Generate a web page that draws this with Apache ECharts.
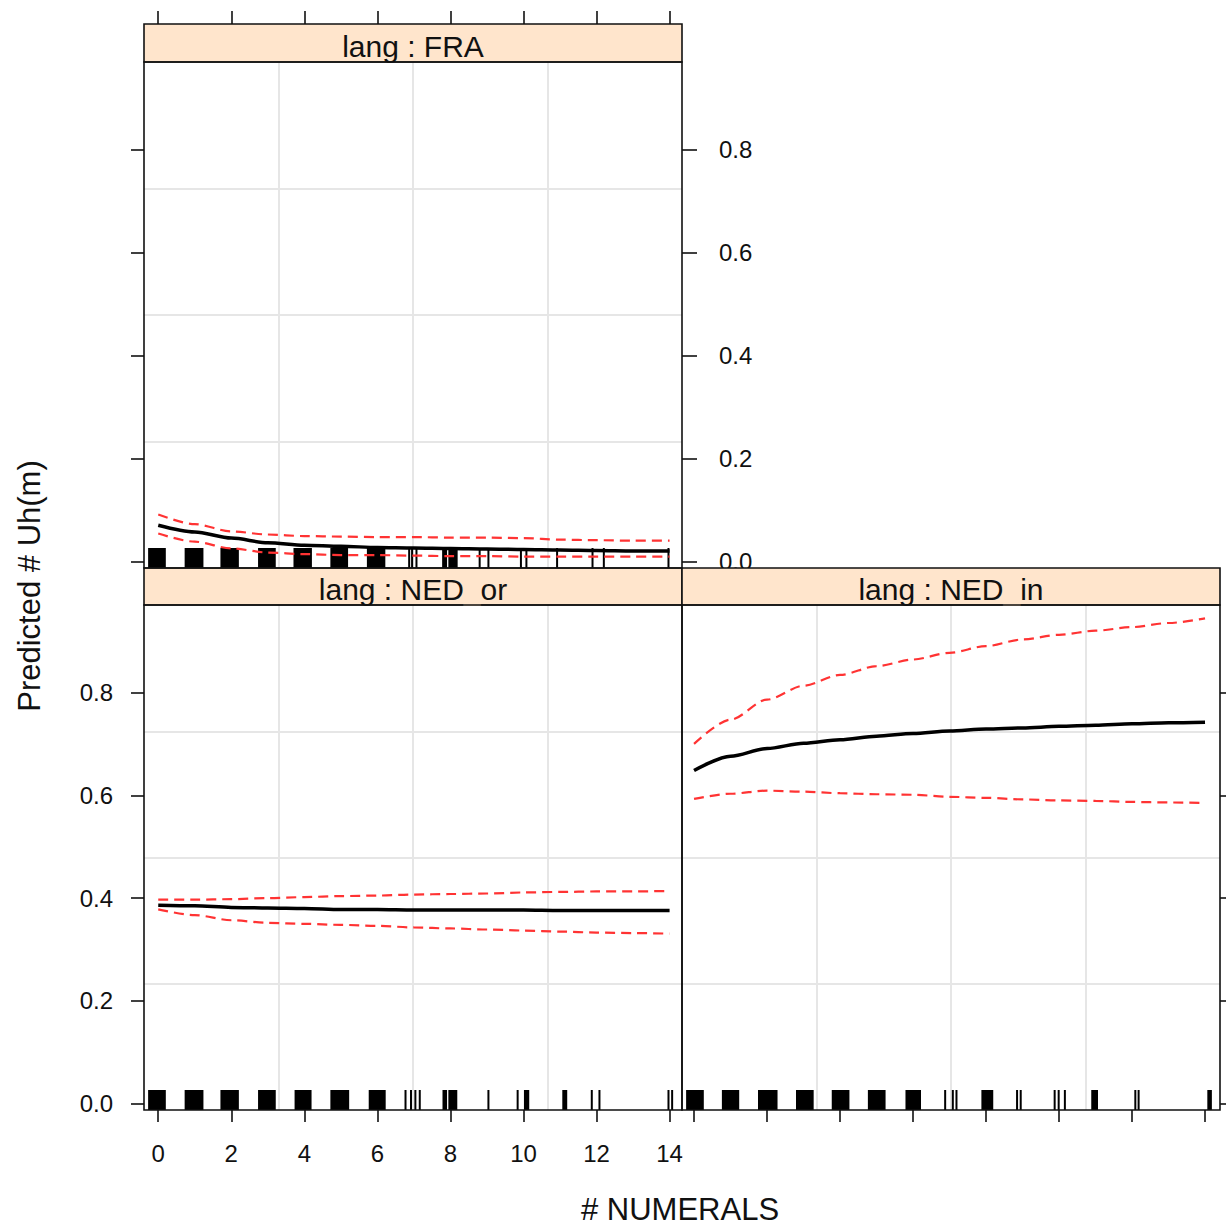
<!DOCTYPE html>
<html>
<head>
<meta charset="utf-8">
<title>Predicted # Uh(m) by # NUMERALS</title>
<script src="https://cdn.jsdelivr.net/npm/echarts@6/dist/echarts.min.js"></script>
<style>
  html, body { margin: 0; padding: 0; background: #ffffff; }
  #chart { width: 1226px; height: 1225px; }
</style>
</head>
<body>
<div id="chart"></div>
<script>
// ---- data -------------------------------------------------------------
const numerals = [0, 1, 2, 3, 4, 5, 6, 7, 8, 9, 10, 11, 12, 13, 14];

const fraFit   = [0.071, 0.058, 0.046, 0.037, 0.032, 0.030, 0.028, 0.027, 0.026, 0.025, 0.024, 0.023, 0.022, 0.021, 0.021];
const fraLower = [0.055, 0.039, 0.026, 0.018, 0.015, 0.013, 0.013, 0.012, 0.011, 0.011, 0.010, 0.010, 0.010, 0.010, 0.010];
const fraUpper = [0.092, 0.073, 0.059, 0.053, 0.050, 0.049, 0.048, 0.048, 0.047, 0.047, 0.046, 0.043, 0.042, 0.041, 0.041];

const nedOrFit   = [0.386, 0.385, 0.382, 0.381, 0.380, 0.378, 0.378, 0.377, 0.377, 0.377, 0.377, 0.376, 0.376, 0.376, 0.376];
const nedOrLower = [0.378, 0.367, 0.357, 0.352, 0.350, 0.348, 0.346, 0.343, 0.341, 0.339, 0.337, 0.335, 0.333, 0.332, 0.331];
const nedOrUpper = [0.397, 0.397, 0.398, 0.400, 0.402, 0.404, 0.405, 0.407, 0.408, 0.409, 0.411, 0.412, 0.413, 0.413, 0.414];

const nedInFit   = [0.648, 0.676, 0.691, 0.701, 0.708, 0.715, 0.720, 0.725, 0.729, 0.731, 0.734, 0.736, 0.739, 0.741, 0.742];
const nedInLower = [0.593, 0.603, 0.609, 0.607, 0.604, 0.602, 0.601, 0.597, 0.595, 0.592, 0.590, 0.589, 0.587, 0.586, 0.585];
const nedInUpper = [0.700, 0.747, 0.786, 0.813, 0.834, 0.851, 0.864, 0.877, 0.890, 0.903, 0.912, 0.920, 0.927, 0.935, 0.944];

// rug of observed (jittered) # NUMERALS values: single ticks or dense [from, to] runs
const fraRug = [[-0.25, 0.18], [0.75, 1.21], [1.73, 2.18], [2.76, 3.19], [3.73, 4.18], [4.74, 5.17], [5.74, 6.19],
  6.87, 6.95, 7.07, [7.80, 7.88], [7.97, 8.17], 8.80, 9.04, 9.93, 10.08, 10.92, 11.89, 12.20, 13.97];
const nedOrRug = [[-0.25, 0.18], [0.75, 1.21], [1.73, 2.18], [2.76, 3.19], [3.76, 4.17], [4.74, 5.20], [5.79, 6.20],
  6.77, 6.92, 7.04, 7.16, [7.81, 7.88], [7.97, 8.16], 9.04, 9.84, [10.04, 10.13], [11.09, 11.17], 11.87, 12.08, 13.97, 14.07];
const nedInRug = [[-0.19, 0.24], [0.79, 1.21], [1.78, 2.26], [2.82, 3.25], [3.80, 4.23], [4.79, 5.22], [5.82, 6.19],
  6.88, 7.09, 7.19, [7.90, 8.17], 8.85, 8.95, 9.88, 9.99, 10.16, [10.91, 11.04], 12.09, 12.18, [14.09, 14.16]];

const xTickValues = [0, 2, 4, 6, 8, 10, 12, 14];
const yTickValues = [0, 0.2, 0.4, 0.6, 0.8];

const panelTitles = ['lang : FRA', 'lang : NED_or', 'lang : NED_in'];
const xTitle = '# NUMERALS';
const yTitle = 'Predicted # Uh(m)';

// ---- layout -------------------------------------------------------------
const FONT = "'Liberation Sans', Arial, Helvetica, sans-serif";
const STRIP_FILL = '#ffe5cc';
const panels = [
  { x: 144, y: 62,  w: 538, h: 506, stripY: 24,  stripH: 38, xMin: -0.39, xMax: 14.34 },
  { x: 144, y: 605, w: 538, h: 505, stripY: 568, stripH: 37, xMin: -0.39, xMax: 14.34 },
  { x: 682, y: 605, w: 538, h: 505, stripY: 568, stripH: 37, xMin: -0.33, xMax: 14.41 }
];
const Y_MIN = -0.012, Y_MAX = 0.970;
const RUG_H = 20;
const RED = '#ff3333';
const GRIDLINE = '#e6e6e6';

const pairs = (ys) => numerals.map((x, i) => [x, ys[i]]);
const rugData = (rug) => rug.map(r => Array.isArray(r) ? [r[0], r[1], 0] : [r, r, 0]);

const tickStyle = { show: true, inside: false, lineStyle: { color: '#111', width: 1.6 } };
const labelStyle = { color: '#111', fontFamily: FONT, fontSize: 24 };
const noLine = { show: false, onZero: false };

function mainX(gridIndex, position, tickLen, opts) {
  const p = panels[gridIndex];
  return Object.assign({
    type: 'value', gridIndex, position, min: p.xMin, max: p.xMax,
    axisLine: noLine,
    axisTick: Object.assign({ length: tickLen, customValues: xTickValues }, tickStyle),
    axisLabel: { show: false, customValues: xTickValues },
    splitLine: { show: false }
  }, opts || {});
}
function mainY(gridIndex, position, withLabels, tickLen, margin) {
  return {
    type: 'value', gridIndex, position, min: Y_MIN, max: Y_MAX,
    axisLine: noLine,
    axisTick: Object.assign({ length: tickLen, customValues: yTickValues }, tickStyle),
    axisLabel: Object.assign({
      show: withLabels, customValues: yTickValues, margin,
      formatter: v => v.toFixed(1)
    }, labelStyle),
    splitLine: { show: false }
  };
}
// quarter reference lines inside every panel
function quarterAxis(kind, gridIndex) {
  return {
    type: 'value', gridIndex, min: 0, max: 4, interval: 1,
    position: kind === 'x' ? 'bottom' : 'left',
    axisLine: noLine, axisTick: { show: false }, axisLabel: { show: false },
    splitLine: { show: true, showMinLine: false, showMaxLine: false, lineStyle: { color: GRIDLINE, width: 2 } },
    z: 0
  };
}

const xAxis = [
  mainX(0, 'top', 13, { offset: panels[0].y - panels[0].stripY }),
  mainX(1, 'bottom', 12, { axisLabel: Object.assign({ show: true, customValues: xTickValues, margin: 31 }, labelStyle) }),
  mainX(2, 'bottom', 12),
  quarterAxis('x', 0), quarterAxis('x', 1), quarterAxis('x', 2)
];
const yAxis = [
  mainY(0, 'left', false, 13, 31),
  mainY(0, 'right', true, 15, 37),
  mainY(1, 'left', true, 13, 31),
  mainY(2, 'right', false, 13, 31),
  quarterAxis('y', 0), quarterAxis('y', 1), quarterAxis('y', 2)
];

function rugSeries(rug, xi, yi) {
  return {
    type: 'custom', xAxisIndex: xi, yAxisIndex: yi, z: 3, silent: true,
    encode: { x: [0, 1], y: 2 },
    data: rugData(rug),
    renderItem: (params, api) => {
      const cs = params.coordSys;
      const x0 = api.coord([api.value(0), 0])[0];
      const x1 = api.coord([api.value(1), 0])[0];
      const bottom = cs.y + cs.height;
      return {
        type: 'rect',
        shape: { x: x0 - 1, y: bottom - RUG_H, width: Math.max(0, x1 - x0) + 2, height: RUG_H },
        style: { fill: '#000' }
      };
    }
  };
}
function fitSeries(ys, xi, yi) {
  return { type: 'line', xAxisIndex: xi, yAxisIndex: yi, data: pairs(ys), showSymbol: false, symbol: 'none',
    smooth: 0.3, smoothMonotone: 'x', z: 5, lineStyle: { color: '#000', width: 3.5 } };
}
function ciSeries(ys, xi, yi) {
  return { type: 'line', xAxisIndex: xi, yAxisIndex: yi, data: pairs(ys), showSymbol: false, symbol: 'none',
    smooth: 0.3, smoothMonotone: 'x', z: 4, lineStyle: { color: RED, width: 2.2, type: [10, 6] } };
}

const series = [
  rugSeries(fraRug, 0, 0), ciSeries(fraLower, 0, 0), ciSeries(fraUpper, 0, 0), fitSeries(fraFit, 0, 0),
  rugSeries(nedOrRug, 1, 2), ciSeries(nedOrLower, 1, 2), ciSeries(nedOrUpper, 1, 2), fitSeries(nedOrFit, 1, 2),
  rugSeries(nedInRug, 2, 3), ciSeries(nedInLower, 2, 3), ciSeries(nedInUpper, 2, 3), fitSeries(nedInFit, 2, 3)
];

// strip label: the underscore sits below the strip's clip edge, so it is painted in the strip colour
function stripLabel(title) {
  return title.split('_').map(s => '{t|' + s + '}').join('{u|_}');
}
const stripRich = {
  t: { fill: '#111', fontSize: 30, fontFamily: FONT },
  u: { fill: STRIP_FILL, fontSize: 30, fontFamily: FONT }
};

// strips, panel frames and the shared axis titles
const graphic = [];
panels.forEach((p, i) => {
  graphic.push({ type: 'rect', z: 50, shape: { x: p.x, y: p.stripY, width: p.w, height: p.stripH },
    style: { fill: STRIP_FILL, stroke: '#111', lineWidth: 1.6 } });
  graphic.push({ type: 'text', z: 51, x: p.x + p.w / 2, y: p.stripY + p.stripH - 16,
    style: { text: stripLabel(panelTitles[i]), rich: stripRich, fill: '#111', font: '30px ' + FONT,
      align: 'center', verticalAlign: 'middle' } });
  graphic.push({ type: 'rect', z: 60, shape: { x: p.x, y: p.y, width: p.w, height: p.h },
    style: { fill: 'none', stroke: '#111', lineWidth: 1.6 } });
});
graphic.push({ type: 'text', z: 60, x: 680, y: 1209,
  style: { text: xTitle, fill: '#111', font: '31px ' + FONT, align: 'center', verticalAlign: 'middle' } });
graphic.push({ type: 'text', z: 60, x: 29, y: 586, rotation: Math.PI / 2,
  style: { text: yTitle, fill: '#111', font: '31px ' + FONT, align: 'center', verticalAlign: 'middle' } });

const chart = echarts.init(document.getElementById('chart'), null, { renderer: 'svg' });
chart.setOption({
  animation: false,
  backgroundColor: '#ffffff',
  grid: panels.map(p => ({ left: p.x, top: p.y, width: p.w, height: p.h, containLabel: false, outerBoundsMode: 'none', show: false })),
  xAxis, yAxis, series, graphic
});
</script>
</body>
</html>
